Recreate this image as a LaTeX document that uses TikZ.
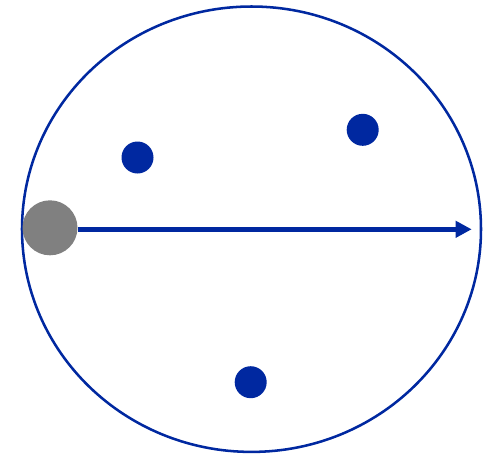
\documentclass[tikz,border=0pt]{standalone}
\usetikzlibrary{arrows.meta}
\definecolor{dblue}{RGB}{0,40,160}
\definecolor{ggray}{RGB}{128,128,128}
\begin{document}
\begin{tikzpicture}[x=0.75pt,y=-0.75pt,
  dot/.style={circle,fill=dblue,draw=none,minimum size=32*0.75pt,inner sep=0pt},
  start/.style={circle,fill=ggray,draw=none,minimum size=55*0.75pt,inner sep=0pt},
  arr/.style={draw=dblue,line width=3.4pt,-{Triangle[length=12pt,width=12pt]}}]
\useasboundingbox (0,0) rectangle (489,455);
\draw[dblue,line width=1.9pt] (251.5,229.2) ellipse [x radius=229.5, y radius=222.7];
\node[dot] (d1) at (137.5,157.5) {};
\node[dot] (d2) at (362.7,129.8) {};
\node[dot] (d3) at (250.7,382.2) {};
\coordinate (tip) at (471.7,229.3);
\node[start] (s) at (50,227.8) {};
\draw[arr] (s.east |- tip) -- (tip);
\end{tikzpicture}
\end{document}
